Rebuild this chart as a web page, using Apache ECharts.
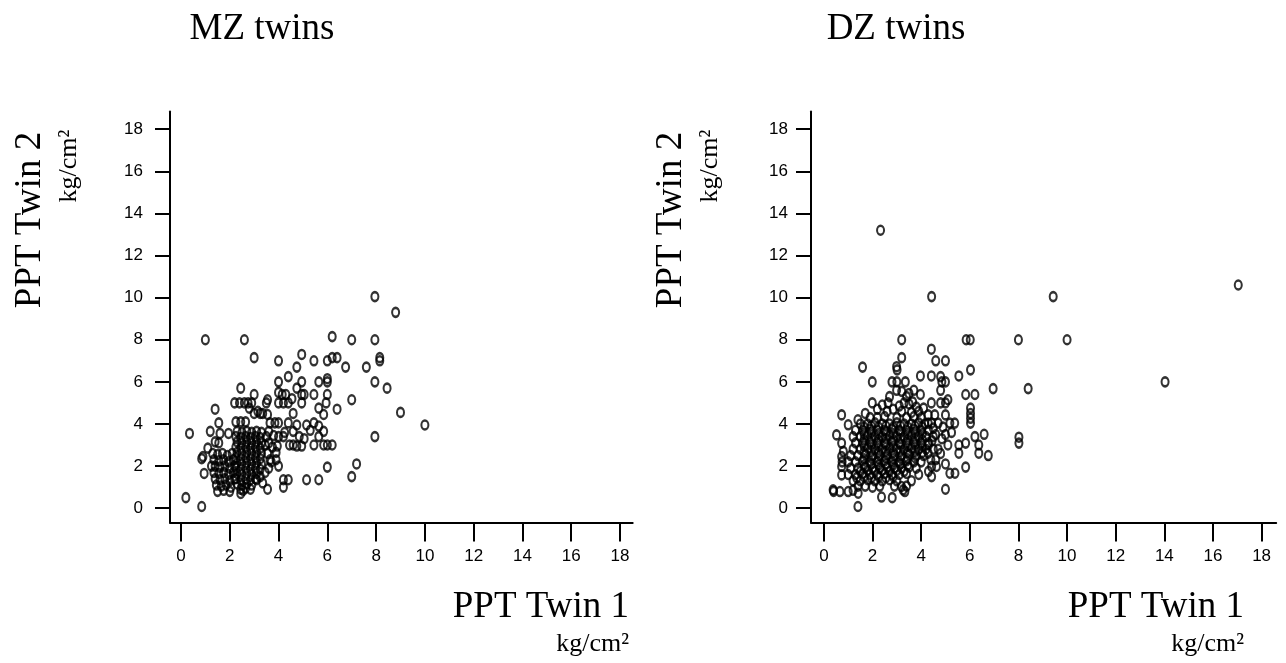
<!DOCTYPE html>
<html>
<head>
<meta charset="utf-8">
<script src="https://cdn.jsdelivr.net/npm/echarts@6/dist/echarts.min.js"></script>
<style>
html,body{margin:0;padding:0;background:#fff;}
#wrap{position:relative;width:1286px;height:663px;}
#chart,#axes{position:absolute;left:0;top:0;width:1286px;height:663px;}
#axes{pointer-events:none;}
</style>
</head>
<body>
<div id="wrap"><div id="chart"></div><div id="axes"></div></div>
<script>
// ---- data (PPT, kg/cm^2): [Twin 1, Twin 2] ----
const tickValues = [0, 2, 4, 6, 8, 10, 12, 14, 16, 18];
const panelTitles = ['MZ twins', 'DZ twins'];
const xAxisName = 'PPT Twin 1';
const yAxisName = 'PPT Twin 2';
const unitName = 'kg/cm\u00B2';

const mzPoints = [
  [7.95,10.05],[8.8,9.3],[1.0,8.0],[2.6,8.0],[6.2,8.15],[7.0,8.0],[7.95,8.0],
  [3.0,7.15],[4.0,7.0],[4.95,7.3],[5.45,7.0],[6.0,7.0],[6.2,7.15],[6.4,7.15],[6.75,6.7],[7.6,6.7],[8.15,7.15],[8.15,7.0],
  [4.75,6.7],[4.4,6.25],[4.0,6.0],[4.95,6.0],[5.65,6.0],[6.0,6.15],[6.0,6.0],[7.95,6.0],[8.45,5.7],
  [2.45,5.7],[3.0,5.4],[3.55,5.15],[4.0,5.5],[4.15,5.4],[4.3,5.4],[4.0,5.0],[4.2,5.0],[4.4,5.0],[4.55,5.2],[4.75,5.7],
  [4.95,5.4],[5.05,5.4],[5.45,5.4],[6.0,5.4],[4.95,5.0],[5.95,5.0],[4.6,4.5],
  [7.0,5.15],[5.65,4.75],[6.4,4.7],[5.85,4.45],[9.0,4.55],[10.0,3.95],[7.95,3.4],
  [0.35,3.55],[1.4,4.7],[0.2,0.5],[0.85,0.08],
  [7.2,2.1],[7.0,1.5],[6.0,1.95],[5.15,1.35],[5.65,1.35],[4.2,1.35],[4.4,1.35],[4.2,1.0],[3.55,0.9],
  [4.75,3.95],[5.15,3.95],[5.45,4.05],[5.65,3.9],[5.85,3.65],[5.65,3.4],[5.45,3.0],[5.85,3.0],[6.0,3.0],[6.2,3.0],
  [4.6,3.0],[4.75,2.95],[4.95,2.95],[4.6,3.65],[4.4,4.05],[4.0,4.05],[3.85,4.05],[3.65,4.05],[3.55,4.45],[3.25,4.5],[3.0,4.5],[2.8,4.75],
  [2.2,5.0],[2.4,5.0],[2.6,5.0],[2.75,5.0],[2.9,5.0],[3.5,5.0],
  [2.25,4.1],[2.45,4.1],[2.65,4.1],[3.15,4.6],[3.35,4.5],
  [4.0,3.4],[4.2,3.4],[3.8,3.45],[3.95,2.95],[3.9,2.65],[4.0,2.0],[3.9,2.3],[3.65,2.3],[3.25,1.5],[3.1,1.35],
  [4.45,3.0],[4.25,3.6],[4.85,3.4],[5.3,3.7],[5.05,3.3],
  [1.55,4.05],[1.2,3.65],[1.6,3.55],[1.95,3.55],[1.4,3.15],[1.55,3.1],[1.1,2.85],[0.9,2.45],[0.85,2.35],[0.95,1.65],[1.25,2.0],
  [1.3,2.6],[1.5,2.55],[1.7,2.6],[1.9,2.5],[2.1,2.6],
  [1.35,2.3],[1.55,2.25],[1.75,2.3],[1.95,2.2],[2.15,2.3],
  [1.4,2.0],[1.6,1.95],[1.8,2.0],[2.0,1.9],[2.2,2.0],
  [1.35,1.7],[1.55,1.65],[1.75,1.7],[1.95,1.6],[2.15,1.7],
  [1.4,1.4],[1.6,1.35],[1.8,1.4],[2.0,1.3],[2.2,1.4],
  [1.45,1.1],[1.65,1.05],[1.85,1.1],[2.05,1.0],
  [1.5,0.8],[1.75,0.85],[2.0,0.8],[2.45,0.7],[2.55,0.85],
  [2.3,3.65],[2.5,3.6],[2.7,3.65],[2.9,3.6],[3.1,3.65],[3.3,3.6],
  [2.25,3.4],[2.45,3.35],[2.65,3.4],[2.85,3.35],[3.05,3.4],[3.25,3.35],
  [2.3,3.15],[2.5,3.1],[2.7,3.15],[2.9,3.1],[3.1,3.15],[3.3,3.1],
  [2.25,2.9],[2.45,2.85],[2.65,2.9],[2.85,2.85],[3.05,2.9],[3.25,2.85],
  [2.3,2.65],[2.5,2.6],[2.7,2.65],[2.9,2.6],[3.1,2.65],[3.3,2.6],
  [2.25,2.4],[2.45,2.35],[2.65,2.4],[2.85,2.35],[3.05,2.4],[3.25,2.35],
  [2.3,2.15],[2.5,2.1],[2.7,2.15],[2.9,2.1],[3.1,2.15],[3.3,2.1],
  [2.25,1.9],[2.45,1.85],[2.65,1.9],[2.85,1.85],[3.05,1.9],[3.25,1.85],
  [2.3,1.65],[2.5,1.6],[2.7,1.65],[2.9,1.6],[3.1,1.65],
  [2.25,1.4],[2.45,1.35],[2.65,1.4],[2.85,1.35],[3.05,1.4],
  [2.3,1.15],[2.5,1.1],[2.7,1.15],[2.9,1.1],
  [2.45,0.9],[2.65,0.95],[2.85,0.9],
  [3.45,3.0],[3.6,3.1],[3.75,2.9],[3.55,2.6],[3.7,2.2],[3.6,1.9],[3.45,1.7],[3.35,1.2],[3.5,3.4],[3.6,3.65]
];

const dzPoints = [
  [2.33,13.2],[4.43,10.05],[9.43,10.05],[17.04,10.6],[3.2,8.0],[5.85,8.0],[6.02,8.0],[8.0,8.0],[10.0,8.0],[14.03,6.0],
  [8.4,5.68],[6.96,5.68],[8.02,3.37],[8.02,3.09],
  [4.42,7.55],[3.2,7.15],[2.99,6.72],[3.01,6.57],[1.59,6.7],[4.6,7.0],[5.0,7.0],[6.03,6.57],
  [3.97,6.28],[4.42,6.28],[4.8,6.25],[5.55,6.28],[1.99,6.0],[2.8,6.0],[3.0,6.0],[3.35,6.0],[4.85,6.0],[5.0,6.0],
  [2.99,5.6],[3.2,5.55],[3.5,5.45],[3.97,5.4],[4.8,5.6],[5.1,5.15],[5.83,5.4],[6.21,5.4],
  [1.99,5.0],[2.64,5.0],[3.3,5.0],[3.5,4.95],[3.65,5.05],[4.42,5.0],[4.8,5.0],[5.0,5.0],
  [6.03,4.75],[6.03,4.5],[6.03,4.27],[6.03,4.04],[5.38,4.04],[5.18,4.04],[4.29,4.43],[4.56,4.43],[5.0,4.43],[4.29,4.04],[4.43,4.04],[4.7,4.04],
  [0.73,4.43],[1.0,3.96],[0.52,3.48],[0.73,3.09],[0.73,2.45],[0.73,1.98],[0.73,1.58],[0.75,2.2],[0.8,2.7],
  [0.38,0.87],[0.4,0.8],[0.66,0.79],[1.0,0.79],[1.2,0.85],[1.41,0.71],[1.4,0.08],[2.37,0.53],[2.81,0.5],[3.26,0.87],[3.33,0.79],[3.19,1.03],
  [6.59,3.51],[6.21,3.4],[5.83,3.09],[5.55,3.0],[5.55,2.61],[6.37,3.0],[6.37,2.61],[6.76,2.5],[5.0,2.1],[5.18,1.66],[5.39,1.66],
  [5.83,1.95],[5.0,0.9],[4.43,1.98],[4.43,1.5],[4.63,1.98],[4.29,2.61],
  [4.3,3.0],[4.45,3.2],[4.6,3.5],[4.7,2.8],[4.85,3.3],[5.0,3.5],[5.1,3.0],[4.5,3.8],[4.9,3.85],[5.25,3.6],[4.6,2.3],[4.8,2.6],[4.4,2.3],[4.3,1.75],
  [2.4,4.9],[2.85,4.7],[3.1,4.85],[3.8,4.8],[4.1,4.75],[2.2,4.7],[1.7,4.5],[1.4,4.2],[3.7,5.6],[3.4,5.3],[2.7,5.3],
  [2.6,4.6],[3.2,4.6],[3.6,4.55],[3.9,4.6],
  [1.9,4.3],[2.2,4.3],[2.5,4.35],[3.0,4.3],[3.4,4.3],[3.7,4.35],[4.0,4.3],
  [1.5,4.0],[1.8,4.0],[2.1,4.05],[2.4,4.0],[2.7,4.0],[3.0,4.05],[3.3,4.0],[3.6,4.0],[3.9,4.05],[4.15,4.0],
  [1.3,3.7],[1.6,3.7],[1.9,3.75],[2.2,3.7],[2.5,3.7],[2.8,3.75],[3.1,3.7],[3.4,3.7],[3.7,3.75],[4.0,3.7],[4.3,3.7],
  [1.2,3.4],[1.5,3.4],[1.8,3.45],[2.1,3.4],[2.4,3.4],[2.7,3.45],[3.0,3.4],[3.3,3.4],[3.6,3.45],[3.9,3.4],[4.2,3.4],[4.5,3.4],
  [1.3,3.1],[1.6,3.1],[1.9,3.15],[2.2,3.1],[2.5,3.1],[2.8,3.15],[3.1,3.1],[3.4,3.1],[3.7,3.15],[4.0,3.1],[4.3,3.1],
  [1.2,2.8],[1.5,2.8],[1.8,2.85],[2.1,2.8],[2.4,2.8],[2.7,2.85],[3.0,2.8],[3.3,2.8],[3.6,2.85],[3.9,2.8],[4.2,2.8],[4.5,2.8],
  [1.1,2.5],[1.4,2.5],[1.7,2.55],[2.0,2.5],[2.3,2.5],[2.6,2.55],[2.9,2.5],[3.2,2.5],[3.5,2.55],[3.8,2.5],[4.1,2.5],
  [1.0,2.2],[1.3,2.2],[1.6,2.25],[1.9,2.2],[2.2,2.2],[2.5,2.25],[2.8,2.2],[3.1,2.2],[3.4,2.25],[3.7,2.2],[4.0,2.2],
  [1.1,1.9],[1.4,1.9],[1.7,1.95],[2.0,1.9],[2.3,1.9],[2.6,1.95],[2.9,1.9],[3.2,1.9],[3.5,1.95],[3.8,1.9],
  [1.0,1.6],[1.3,1.6],[1.6,1.65],[1.9,1.6],[2.2,1.6],[2.5,1.65],[2.8,1.6],[3.1,1.6],[3.4,1.65],[3.9,1.6],
  [1.2,1.3],[1.5,1.3],[1.8,1.35],[2.1,1.3],[2.4,1.3],[2.7,1.35],[3.0,1.3],[3.6,1.3],
  [1.4,1.05],[1.7,1.05],[2.0,1.0],[2.3,1.05],[2.9,1.05],[3.4,1.05],
  [1.65,3.85],[1.95,3.9],[2.25,3.85],[2.55,3.9],[2.85,3.85],[3.15,3.9],[3.45,3.85],[3.75,3.9],[4.05,3.85],
  [1.65,3.55],[1.95,3.6],[2.25,3.55],[2.55,3.6],[2.85,3.55],[3.15,3.6],[3.45,3.55],[3.75,3.6],[4.05,3.55],
  [1.65,3.25],[1.95,3.3],[2.25,3.25],[2.55,3.3],[2.85,3.25],[3.15,3.3],[3.45,3.25],[3.75,3.3],[4.05,3.25],
  [1.65,2.95],[1.95,3.0],[2.25,2.95],[2.55,3.0],[2.85,2.95],[3.15,3.0],[3.45,2.95],[3.75,3.0],[4.05,2.95],
  [1.65,2.65],[1.95,2.7],[2.25,2.65],[2.55,2.7],[2.85,2.65],[3.15,2.7],[3.45,2.65],[3.75,2.7],[4.05,2.65],
  [1.65,2.35],[1.95,2.4],[2.25,2.35],[2.55,2.4],[2.85,2.35],[3.15,2.4],[3.45,2.35],[3.75,2.4],
  [1.65,2.05],[1.95,2.1],[2.25,2.05],[2.55,2.1],[2.85,2.05],[3.15,2.1],[3.45,2.05],
  [1.5,1.75],[1.8,1.8],[2.1,1.75],[2.4,1.8],[2.7,1.75],[3.0,1.8],[3.3,1.75],
  [1.35,1.45],[1.65,1.5],[1.95,1.45],[2.25,1.5],[2.55,1.45],[2.85,1.5]
];

// ---- layout ----
const serifFont = '"Liberation Serif", "Times New Roman", serif';
const ellipse = 'path://M0,-1A1,1 0 1 1 0,1A1,1 0 1 1 0,-1Z';
const grids = [
  {left: 170, top: 111.5, width: 462.7, height: 411},
  {left: 811, top: 111.5, width: 465.2, height: 411}
];
const xRanges = [[-0.45, 18.52], [-0.53, 18.6]];
const yRange = [-0.68, 18.84];
const yLabelMargins = [27, 23];

// ---- data layer: scatter points and titles (axes hidden) ----
const chart = echarts.init(document.getElementById('chart'), null, {renderer: 'canvas'});
const plainX = [0, 1].map(function (g) {
  return {gridIndex: g, type: 'value', min: xRanges[g][0], max: xRanges[g][1], show: false};
});
const plainY = [0, 1].map(function (g) {
  return {gridIndex: g, type: 'value', min: yRange[0], max: yRange[1], show: false};
});
function scatter(data, g) {
  return {
    type: 'scatter', xAxisIndex: g, yAxisIndex: g, data: data,
    symbol: ellipse, symbolSize: [7, 9],
    itemStyle: {color: 'rgba(0,0,0,0)', borderColor: '#000', borderWidth: 2.3},
    silent: true, animation: false
  };
}
function txt(text, x, y, size, align, rot) {
  return {
    type: 'text', x: x, y: y, rotation: rot || 0, silent: true,
    style: {
      text: text, fill: '#000', font: size + 'px ' + serifFont,
      align: align, textAlign: align, verticalAlign: 'middle', textVerticalAlign: 'middle'
    }
  };
}
chart.setOption({
  animation: false,
  backgroundColor: '#fff',
  grid: grids,
  xAxis: plainX,
  yAxis: plainY,
  series: [scatter(mzPoints, 0), scatter(dzPoints, 1)],
  graphic: [
    txt(panelTitles[0], 262, 29, 37, 'center'),
    txt(panelTitles[1], 896, 29, 37, 'center'),
    txt(xAxisName, 629, 607, 37, 'right'),
    txt(unitName, 629, 644, 26, 'right'),
    txt(xAxisName, 1244, 607, 37, 'right'),
    txt(unitName, 1244, 644, 26, 'right'),
    txt(yAxisName, 30, 220, 37, 'center', Math.PI / 2),
    txt(unitName, 69, 166, 26, 'center', Math.PI / 2),
    txt(yAxisName, 671, 220, 37, 'center', Math.PI / 2),
    txt(unitName, 710, 166, 26, 'center', Math.PI / 2)
  ]
});

// ---- axis layer: same grids and scales, with lines, ticks and labels ----
const axesChart = echarts.init(document.getElementById('axes'), null, {renderer: 'canvas'});
const xAxes = [], yAxes = [];
[0, 1].forEach(function (g) {
  xAxes.push({
    gridIndex: g, type: 'value', min: xRanges[g][0], max: xRanges[g][1], position: 'bottom',
    axisLine: {show: true, onZero: false, lineStyle: {color: '#000', width: 2}},
    axisTick: {show: true, customValues: tickValues, length: 19, lineStyle: {color: '#000', width: 2}},
    axisLabel: {show: true, customValues: tickValues, margin: 25, color: '#000', fontSize: 17, fontFamily: 'Arial'},
    splitLine: {show: false}
  });
  yAxes.push({
    gridIndex: g, type: 'value', min: yRange[0], max: yRange[1], position: 'left',
    axisLine: {show: true, onZero: false, lineStyle: {color: '#000', width: 2}},
    axisTick: {show: true, customValues: tickValues, length: 15, lineStyle: {color: '#000', width: 2}},
    axisLabel: {show: true, customValues: tickValues, margin: yLabelMargins[g], color: '#000', fontSize: 17, fontFamily: 'Arial'},
    splitLine: {show: false}
  });
});
axesChart.setOption({
  animation: false,
  backgroundColor: 'transparent',
  grid: grids,
  xAxis: xAxes,
  yAxis: yAxes,
  series: []
});
</script>
</body>
</html>
